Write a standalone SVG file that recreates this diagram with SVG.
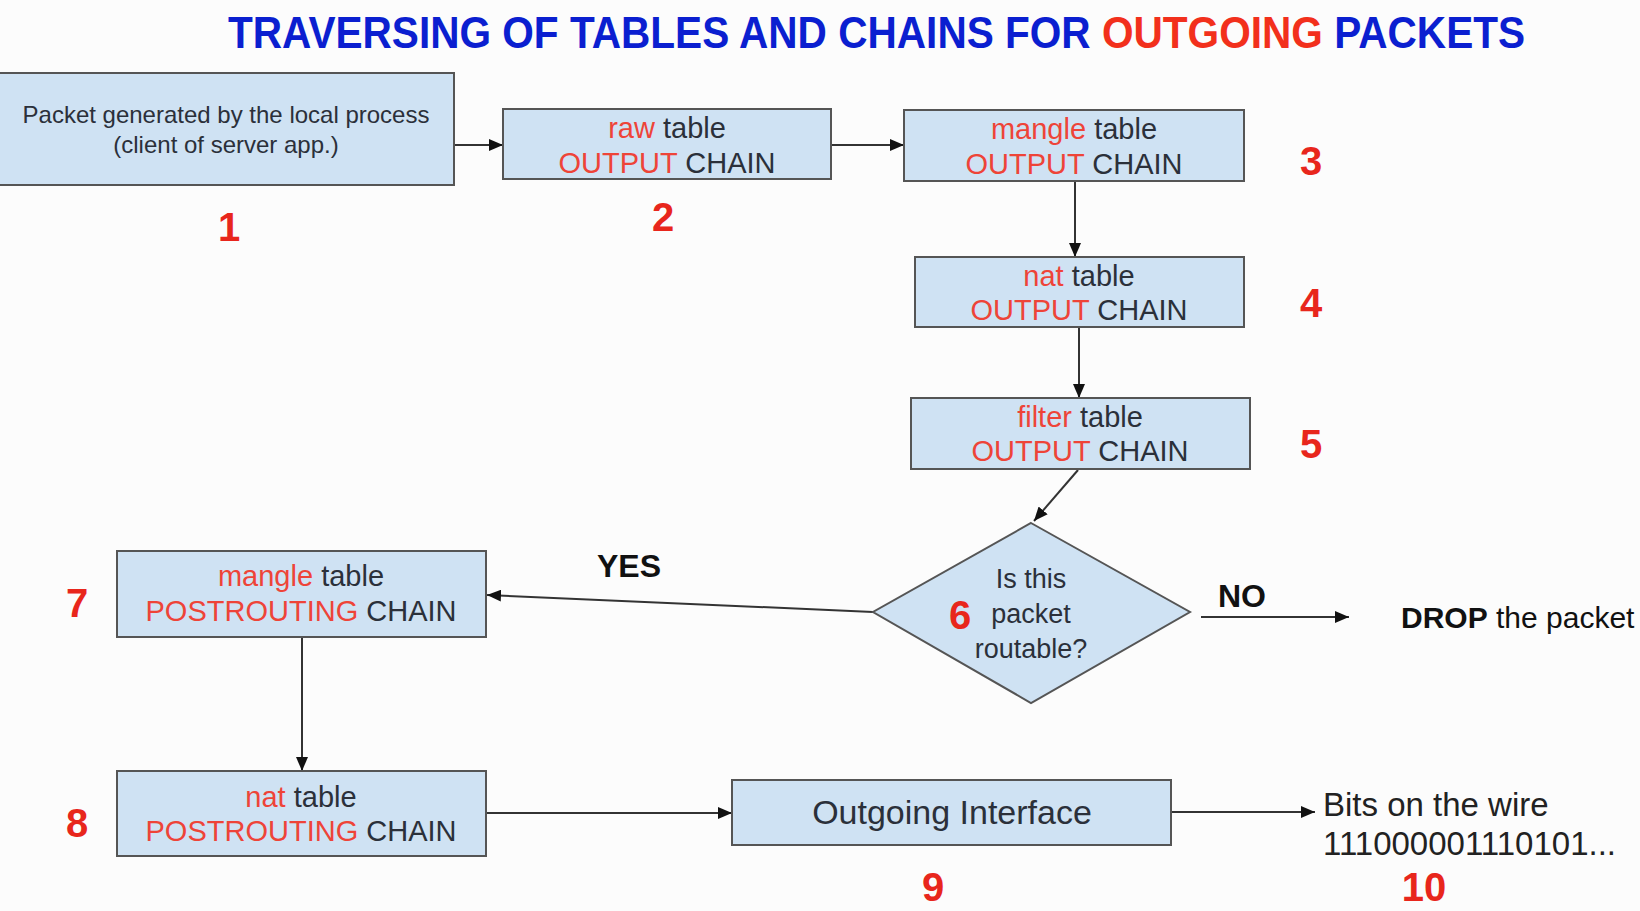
<svg xmlns="http://www.w3.org/2000/svg" width="1640" height="911" viewBox="0 0 1640 911">
<style>
.box{fill:#cfe2f3;stroke:#555;stroke-width:2}
.t{font-family:"Liberation Sans",Arial,sans-serif;fill:#2b303a;text-anchor:middle}
.r{fill:#ee4438}
.num{font-family:"Liberation Sans",Arial,sans-serif;font-weight:bold;font-size:40px;fill:#e8261c;text-anchor:middle}
.lbl{font-family:"Liberation Sans",Arial,sans-serif;font-weight:bold;font-size:32px;fill:#111}
.ttl{font-family:"Liberation Sans",Arial,sans-serif;font-weight:bold;font-size:40.6px}
.ln{stroke:#333;stroke-width:2;fill:none;marker-end:url(#ah)}
</style>
<defs>
<marker id="ah" markerUnits="userSpaceOnUse" markerWidth="14" markerHeight="12" refX="14" refY="6" orient="auto">
<path d="M0,0 L14,6 L0,12 z" fill="#111"/>
</marker>
</defs>
<rect width="1640" height="911" fill="#fcfcfc"/>
<g id="title">
<text class="ttl" transform="translate(228,48) scale(1,1.1)" x="0" y="0" fill="#0b1fd0">TRAVERSING OF TABLES AND CHAINS FOR <tspan fill="#f2301c">OUTGOING</tspan> PACKETS</text>
</g>

<g id="connectors">
<line class="ln" x1="454" y1="145" x2="503" y2="145"/>
<line class="ln" x1="831" y1="145" x2="904" y2="145"/>
<line class="ln" x1="1075" y1="181" x2="1075" y2="257"/>
<line class="ln" x1="1079" y1="327" x2="1079" y2="398"/>
<line class="ln" x1="1078" y1="470" x2="1034" y2="521"/>
<line class="ln" x1="873" y1="612" x2="487" y2="595"/>
<line class="ln" x1="1201" y1="617" x2="1349" y2="617"/>
<line class="ln" x1="302" y1="637" x2="302" y2="771"/>
<line class="ln" x1="486" y1="813" x2="732" y2="813"/>
<line class="ln" x1="1171" y1="812" x2="1315" y2="812"/>
<text class="lbl" x="597" y="577">YES</text>
<text class="lbl" x="1218" y="607">NO</text>
</g>

<g id="n1">
<rect class="box" x="-2" y="73" width="456" height="112"/>
<text class="t" x="226" y="123" font-size="24">Packet generated by the local process</text>
<text class="t" x="226" y="153" font-size="24">(client of server app.)</text>
<text class="num" x="229" y="241">1</text>
</g>

<g id="n2">
<rect class="box" x="503" y="109" width="328" height="70"/>
<text class="t" x="667" y="138" font-size="29"><tspan class="r">raw</tspan> table</text>
<text class="t" x="667" y="173" font-size="29"><tspan class="r">OUTPUT</tspan> CHAIN</text>
<text class="num" x="663" y="231">2</text>
</g>

<g id="n3">
<rect class="box" x="904" y="110" width="340" height="71"/>
<text class="t" x="1074" y="139" font-size="29"><tspan class="r">mangle</tspan> table</text>
<text class="t" x="1074" y="174" font-size="29"><tspan class="r">OUTPUT</tspan> CHAIN</text>
<text class="num" x="1311" y="175">3</text>
</g>

<g id="n4">
<rect class="box" x="915" y="257" width="329" height="70"/>
<text class="t" x="1079" y="286" font-size="29"><tspan class="r">nat</tspan> table</text>
<text class="t" x="1079" y="320" font-size="29"><tspan class="r">OUTPUT</tspan> CHAIN</text>
<text class="num" x="1311" y="317">4</text>
</g>

<g id="n5">
<rect class="box" x="911" y="398" width="339" height="71"/>
<text class="t" x="1080" y="427" font-size="29"><tspan class="r">filter</tspan> table</text>
<text class="t" x="1080" y="461" font-size="29"><tspan class="r">OUTPUT</tspan> CHAIN</text>
<text class="num" x="1311" y="458">5</text>
</g>

<g id="n6">
<polygon class="box" points="1031,523 1190,612 1031,703 873,612"/>
<text class="t" x="1031" y="588" font-size="27">Is this</text>
<text class="t" x="1031" y="623" font-size="27">packet</text>
<text class="t" x="1031" y="658" font-size="27">routable?</text>
<text class="num" x="960" y="629">6</text>
</g>

<g id="drop">
<text x="1401" y="628" font-family="Liberation Sans,Arial,sans-serif" font-size="30" fill="#111"><tspan font-weight="bold">DROP</tspan> the packet</text>
</g>

<g id="n7">
<rect class="box" x="117" y="551" width="369" height="86"/>
<text class="t" x="301" y="586" font-size="29"><tspan class="r">mangle</tspan> table</text>
<text class="t" x="301" y="621" font-size="29"><tspan class="r">POSTROUTING</tspan> CHAIN</text>
<text class="num" x="77" y="617">7</text>
</g>

<g id="n8">
<rect class="box" x="117" y="771" width="369" height="85"/>
<text class="t" x="301" y="807" font-size="29"><tspan class="r">nat</tspan> table</text>
<text class="t" x="301" y="841" font-size="29"><tspan class="r">POSTROUTING</tspan> CHAIN</text>
<text class="num" x="77" y="837">8</text>
</g>

<g id="n9">
<rect class="box" x="732" y="780" width="439" height="65"/>
<text class="t" x="952" y="824" font-size="34">Outgoing Interface</text>
<text class="num" x="933" y="901">9</text>
</g>

<g id="n10">
<text x="1323" y="816" font-family="Liberation Sans,Arial,sans-serif" font-size="33" fill="#222">Bits on the wire</text>
<text x="1323" y="855" font-family="Liberation Sans,Arial,sans-serif" font-size="33" fill="#222">111000001110101...</text>
<text class="num" x="1424" y="901">10</text>
</g>
</svg>
